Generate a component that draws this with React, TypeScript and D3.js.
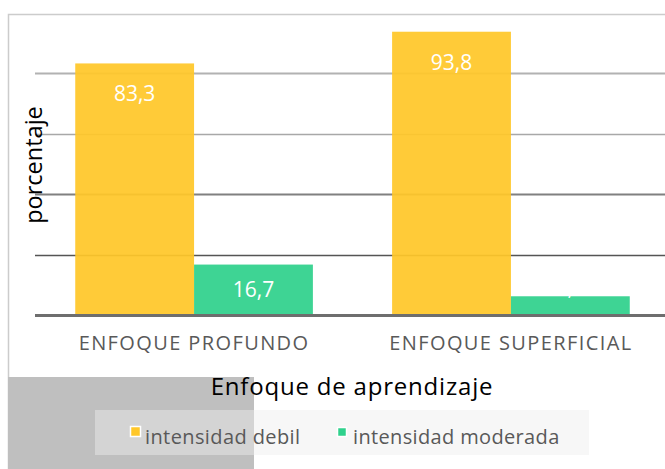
import React from "react";
import * as d3 from "d3";

const categories = ["ENFOQUE PROFUNDO", "ENFOQUE SUPERFICIAL"];
const seriesNames = ["intensidad debil", "intensidad moderada"];
const debil = [83.3, 93.8];
const moderada = [16.7, 6.2];
const gridTicks = [20, 40, 60, 80];
const yTitle = "porcentaje";
const xTitle = "Enfoque de aprendizaje";

const W = 665;
const H = 469;
const colors = ["#FFC729", "#2FD18C"];
const gridColors = ["#555555", "#808080", "#a8a8a8", "#b2b2b2"];
const gridWidths = [1.5, 2, 1.5, 2];
const FONT = "'Open Sans', 'Noto Sans', sans-serif";

export default function App() {
  const x0 = d3.scaleBand<string>().domain(categories).range([35, 670]).paddingInner(0.25).paddingOuter(0.127);
  const x1 = d3.scaleBand<string>().domain(seriesNames).range([0, x0.bandwidth()]).padding(0);
  const y = d3.scaleLinear().domain([0, 100]).range([315, 13]);
  const values = [debil, moderada];
  const fmt = (v: number) => d3.format(".1f")(v).replace(".", ",");

  const bars: any[] = [];
  categories.forEach((c, ci) => {
    seriesNames.forEach((s, si) => {
      const v = values[si][ci];
      const bx = (x0(c) as number) + (x1(s) as number);
      const top = y(v);
      const h = y(0) - top;
      const off = h >= 40 ? Math.min(38, h - 18) : -1;
      bars.push({ key: c + s, bx, top, h, v, si, ly: top + off });
    });
  });

  return (
    <svg width={W} height={H} style={{ position: "absolute", left: 0, top: 0, display: "block" }} fontFamily={FONT}>
      <rect x={0} y={0} width={W} height={H} fill="#ffffff" />
      <rect x={8.5} y={14.5} width={720} height={520} fill="#ffffff" stroke="#cccccc" strokeWidth={1.5} />
      {gridTicks.map((t, i) => (
        <line key={t} x1={35} x2={W} y1={Math.round(y(t)) + 0.5} y2={Math.round(y(t)) + 0.5} stroke={gridColors[i]} strokeWidth={gridWidths[i]} />
      ))}
      {bars.map((b) => (
        <rect key={b.key} x={b.bx} y={b.top} width={x1.bandwidth()} height={b.h} fill={colors[b.si]} fillOpacity={0.93} />
      ))}
      <line x1={35} x2={W} y1={y(0) + 0.5} y2={y(0) + 0.5} stroke="#6e6e6e" strokeWidth={3} />
      {bars.map((b) => (
        <text key={"l" + b.key} x={b.bx + x1.bandwidth() / 2} y={b.ly} textAnchor="middle" fill="#ffffff" fontSize={21} fontWeight={500}>
          {fmt(b.v)}
        </text>
      ))}
      {categories.map((c) => (
        <text key={c} x={(x0(c) as number) + x0.bandwidth() / 2} y={350} textAnchor="middle" fill="#595959" fontSize={20} letterSpacing={1.4}>
          {c}
        </text>
      ))}
      <text transform={`translate(42,165) rotate(-90)`} textAnchor="middle" fill="#000000" fontSize={23.5}>
        {yTitle}
      </text>
      <rect x={8} y={377} width={246} height={92} fill="#bfbfbf" />
      <text x={352} y={395} textAnchor="middle" fill="#000000" fontSize={24} letterSpacing={0.8}>
        {xTitle}
      </text>
      <rect x={95} y={410} width={494} height={45} fill="rgb(237,237,237)" fillOpacity={0.455} />
      <rect x={130.5} y={426.5} width={10} height={10} fill={colors[0]} stroke="#ffffff" strokeWidth={1.5} />
      <text x={145} y={444} fill="#595959" fontSize={20} letterSpacing={0.4}>{seriesNames[0]}</text>
      <rect x={337.5} y={427.5} width={9} height={9} fill={colors[1]} stroke="#ffffff" strokeWidth={1.5} />
      <text x={353} y={444} fill="#595959" fontSize={20} letterSpacing={0.35}>{seriesNames[1]}</text>
    </svg>
  );
}
